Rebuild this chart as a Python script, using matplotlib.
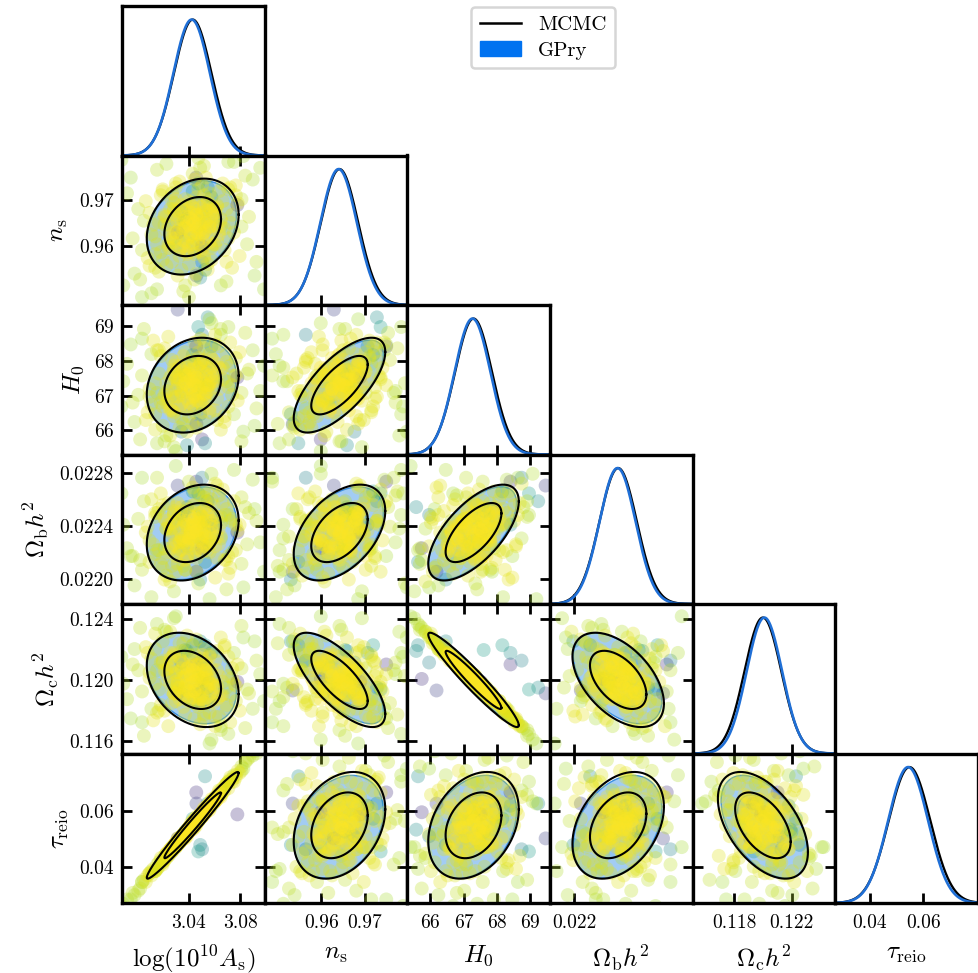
import numpy as np
import matplotlib
matplotlib.use("Agg")
import matplotlib.pyplot as plt
from matplotlib.lines import Line2D
from matplotlib.patches import Patch

plt.rcParams.update({
    "font.family": "serif",
    "font.serif": ["cmr10"],
    "mathtext.fontset": "cm",
    "axes.unicode_minus": False,
})

# parameters (order of the triangle)
labels = [r"$\log(10^{10}A_{\rm s})$", r"$n_{\rm s}$", r"$H_0$",
          r"$\Omega_{\rm b}h^2$", r"$\Omega_{\rm c}h^2$", r"$\tau_{\rm reio}$"]

# posterior summaries
mcmc_mean  = [3.0430, 0.9642, 67.30, 0.022350, 0.12000, 0.0548]
mcmc_sigma = [0.0146, 0.0043, 0.556, 0.000148, 0.00127, 0.0078]
gpry_mean  = [3.0422, 0.9640, 67.27, 0.022345, 0.12010, 0.0543]
gpry_sigma = [0.0142, 0.0042, 0.540, 0.000143, 0.00122, 0.0075]

# correlation matrix (logA, ns, H0, ombh2, omch2, tau)
corr = [
    [1.00, 0.25, 0.20, 0.25, -0.30, 0.98],
    [0.25, 1.00, 0.70, 0.45, -0.72, 0.30],
    [0.20, 0.70, 1.00, 0.65, -0.96, 0.30],
    [0.25, 0.45, 0.65, 1.00, -0.50, 0.35],
    [-0.30, -0.72, -0.96, -0.50, 1.00, -0.50],
    [0.98, 0.30, 0.30, 0.35, -0.50, 1.00],
]

limits = [(2.988, 3.099), (0.9470, 0.9798), (65.31, 69.60),
          (0.02181, 0.02294), (0.11515, 0.1250), (0.0270, 0.0805)]

x_ticks = [[3.04, 3.08], [0.96, 0.97], [66, 67, 68, 69], [0.022],
           [0.118, 0.122], [0.04, 0.06]]
x_ticklabels = [["3.04", "3.08"], ["0.96", "0.97"], ["66", "67", "68", "69"],
                ["0.022"], ["0.118", "0.122"], ["0.04", "0.06"]]
y_ticks = [[], [0.96, 0.97], [66, 67, 68, 69], [0.0220, 0.0224, 0.0228],
           [0.116, 0.120, 0.124], [0.04, 0.06]]
y_ticklabels = [[], ["0.96", "0.97"], ["66", "67", "68", "69"],
                ["0.0220", "0.0224", "0.0228"], ["0.116", "0.120", "0.124"],
                ["0.04", "0.06"]]

# GPry training points, in units of sigma from the MCMC mean
# columns: logA, ns, H0, ombh2, omch2, tau
train_z = [
    # near the peak
    (0.1, 0.2, 0.0, 0.3, -0.1, 0.2), (-0.4, 0.5, 0.3, -0.2, -0.4, -0.3),
    (0.6, -0.3, -0.5, 0.1, 0.5, 0.7), (-0.9, -0.6, -0.2, -0.7, 0.3, -1.0),
    (1.0, 0.8, 0.9, 0.6, -0.7, 1.1), (0.3, -0.9, -0.8, -0.4, 0.8, 0.2),
    (-0.2, 0.1, 0.6, 0.9, -0.6, -0.1), (0.8, 0.4, -0.1, -0.9, 0.0, 0.9),
    (-1.2, 0.9, 0.4, 0.2, -0.2, -1.1), (0.4, -0.2, 1.1, 0.5, -1.0, 0.5),
    (-0.6, -1.1, -1.0, -0.3, 1.0, -0.7), (1.3, 0.0, 0.2, 0.8, -0.3, 1.2),
    (0.0, 1.2, 0.8, 0.4, -0.9, 0.1), (-0.8, 0.3, -0.6, -1.1, 0.4, -0.6),
    (0.5, 0.7, 0.3, -0.5, -0.1, 0.4), (-0.1, -0.5, -1.2, 0.0, 1.1, -0.2),
    (0.9, -0.8, 0.5, 1.2, -0.5, 0.8), (-1.4, -0.2, 0.1, 0.6, 0.0, -1.3),
    (0.2, 0.6, -0.3, -0.8, 0.1, 0.3), (-0.5, -0.7, 0.7, 0.3, -0.8, -0.4),
    (1.1, 1.0, 1.3, 0.9, -1.2, 1.0), (-0.3, -1.3, -0.4, -0.6, 0.6, -0.5),
    (0.7, 0.2, -0.9, -0.2, 0.9, 0.6), (-1.0, 0.8, 1.0, 1.0, -0.7, -0.9),
    (0.2, -0.1, 0.4, -1.3, -0.3, 0.0), (-0.7, 0.4, -1.1, -0.9, 1.2, -0.8),
    (1.4, -0.4, -0.2, 0.2, 0.2, 1.5), (0.0, -0.8, 0.2, 1.4, -0.1, -0.1),
    (-1.1, 1.3, 0.6, -0.1, -0.6, -1.0), (0.6, 0.9, -0.7, 0.5, 0.7, 0.8),
    (-0.2, -1.0, 0.9, -0.4, -1.0, -0.3), (0.9, 0.1, 0.0, -0.3, -0.2, 0.7),
    (-0.6, 1.1, -0.3, 1.1, 0.1, -0.7), (0.3, -0.4, 1.4, 0.7, -1.3, 0.2),
    (-1.3, -0.9, -0.8, 0.4, 0.6, -1.4), (1.2, 0.5, -1.3, -0.7, 1.0, 1.1),
    (-0.4, 0.0, 0.1, -1.4, 0.2, -0.6), (0.1, -1.4, -0.6, 0.8, 0.5, 0.3),
    (0.8, 1.4, 0.7, -0.6, -0.4, 0.9), (-0.9, -0.3, 1.2, 1.3, -1.1, -0.8),
    (0.5, -0.6, -1.4, -1.0, 1.3, 0.6), (-0.1, 0.7, -0.1, 0.0, 0.3, 0.1),
    (1.5, 0.3, 0.8, -0.2, -0.8, 1.3), (-1.5, 0.6, -0.5, 0.7, 0.5, -1.6),
    (0.4, 1.0, 1.1, 1.0, -0.9, 0.5), (-0.7, -1.2, 0.3, -0.5, -0.4, -0.6),
    (0.0, 0.3, -1.0, 0.6, 0.8, -0.2), (1.0, -1.1, -0.4, 0.3, 0.6, 1.2),
    (-0.3, 0.8, 0.5, -1.2, -0.5, -0.4), (0.7, -0.2, 0.6, 1.3, -0.4, 0.6),
    (-1.2, -0.5, -1.3, -0.8, 1.4, -1.1), (0.2, 1.5, 0.2, 0.1, 0.0, 0.4),
    (-0.5, -0.1, 1.5, 0.4, -1.4, -0.6), (1.3, -0.7, -0.7, -1.3, 0.5, 1.2),
    (-0.8, 0.2, 0.0, 1.5, -0.2, -0.9), (0.6, -1.5, 0.1, -0.1, 0.1, 0.5),
    (-0.2, 0.5, -0.9, -0.3, 0.7, -0.1), (1.1, 0.6, 0.4, 0.0, -0.3, 1.0),
    (-1.0, -0.8, 0.8, 0.9, -0.7, -1.0), (0.3, 0.0, -0.4, 0.5, 0.3, 0.3),
    (0.2, -0.3, 0.4, 0.1, -0.5, 0.1), (-0.3, 0.2, -0.2, 0.4, 0.3, -0.2),
    (0.5, 0.5, 0.7, -0.1, -0.8, 0.6), (-0.6, -0.4, -0.5, -0.2, 0.6, -0.5),
    (0.9, -0.1, 0.1, 0.6, 0.0, 0.8), (-0.9, 0.6, 0.3, -0.5, -0.1, -0.8),
    (0.1, 0.9, 0.5, 0.7, -0.6, 0.2), (0.0, -0.9, -0.7, -0.6, 0.7, -0.1),
    (0.4, 0.1, -0.3, 0.2, 0.4, 0.3), (-0.2, -0.2, 0.2, -0.8, -0.1, -0.3),
    (1.2, 0.7, 0.6, 0.3, -0.4, 1.1), (-1.1, -0.6, -0.6, 0.5, 0.7, -1.2),
    (0.6, 1.1, 1.0, 0.2, -1.1, 0.5), (-0.5, -1.0, -1.1, -0.4, 0.9, -0.6),
    (0.3, 0.4, -0.1, 1.0, 0.2, 0.4), (-0.1, 0.0, 0.8, -0.3, -0.7, 0.0),
    (0.7, -0.5, -0.4, -0.7, 0.5, 0.8), (-0.8, 0.8, 0.2, 0.8, -0.4, -0.7),
    (1.0, 0.3, 0.3, -0.4, -0.2, 1.0), (-0.4, -0.8, 0.5, 0.6, -0.3, -0.3),
    (0.2, 0.6, -0.8, -0.9, 0.8, 0.1), (-0.7, -0.1, 1.0, 0.1, -1.0, -0.8),
    (0.8, 1.2, 0.0, 0.9, 0.1, 0.7), (-1.3, 0.1, -0.3, -1.0, 0.2, -1.2),
    (0.5, -1.2, -1.0, 0.3, 1.1, 0.4), (-0.2, 1.3, 1.2, 1.2, -1.1, -0.1),
    (1.4, -0.2, 0.9, -0.6, -0.9, 1.3), (-1.4, 0.5, -0.9, 0.2, 0.8, -1.3),
    (0.1, -0.6, 0.6, -1.1, -0.6, 0.2), (-0.6, 0.9, -0.4, 1.3, 0.5, -0.5),
    (0.9, 0.0, -1.2, 0.0, 1.2, 0.9), (-0.3, -1.4, 0.0, -1.3, -0.1, -0.4),
    (0.6, 0.2, 1.3, 1.1, -1.2, 0.6), (-1.0, -0.3, -1.4, -0.6, 1.3, -0.9),
    (1.1, -0.9, 0.2, 1.4, -0.2, 1.2), (-0.9, 1.4, 0.7, -1.2, -0.7, -1.0),
    (0.0, 0.1, -0.6, 0.0, 0.5, -0.1), (0.3, -0.7, 0.9, 0.4, -0.8, 0.3),
    (-0.5, 0.3, 0.0, -0.5, 0.1, -0.5), (0.7, 0.8, -0.5, 0.6, 0.4, 0.6),
    (-0.1, -0.4, -0.2, 0.8, 0.2, 0.0), (1.3, 1.0, 1.1, -0.2, -1.0, 1.4),
    (-1.2, -1.1, -1.2, 0.1, 1.1, -1.1), (0.4, -1.3, 0.4, -0.3, -0.4, 0.5),
    (-0.3, 1.0, -0.7, 0.3, 0.6, -0.2), (0.2, 0.0, 0.0, -0.1, 0.0, 0.2),
    (-0.1, 0.4, 0.3, 0.2, -0.2, -0.2), (0.5, -0.4, -0.1, -0.3, 0.1, 0.4),
    (-0.4, -0.1, 0.6, 0.5, -0.5, -0.4), (0.1, 0.7, -0.5, -0.4, 0.4, 0.0),
    # intermediate
    (1.8, 0.9, 1.6, 1.2, -1.5, 1.9), (-2.0, -1.4, -1.5, -1.1, 1.6, -2.1),
    (0.5, 2.1, 1.2, 0.8, -1.0, 0.4), (-0.6, -2.2, -1.7, -0.9, 1.5, -0.5),
    (2.2, -0.3, 0.5, 1.6, -0.2, 2.0), (-2.3, 0.7, -0.2, -1.5, 0.1, -2.2),
    (1.4, 1.8, 2.0, 1.9, -1.9, 1.6), (-1.6, -1.7, -2.1, -1.8, 2.0, -1.7),
    (0.8, -1.9, 0.9, -0.2, -0.9, 0.9), (-0.9, 2.0, -0.6, 0.6, 0.4, -0.8),
    (2.4, 1.2, -0.8, 0.1, 0.8, 2.5), (-1.9, -0.9, 1.8, 1.0, -1.7, -2.0),
    (0.1, 2.4, 2.2, 1.4, -2.0, 0.0), (0.2, -2.4, -2.2, -2.0, 2.1, 0.3),
    (1.7, -1.2, -1.6, -1.4, 1.8, 1.8), (-1.7, 1.6, 1.5, 2.0, -1.3, -1.5),
    (2.0, 0.2, 1.0, -1.8, -0.8, 2.2), (-2.2, -0.4, -1.0, 1.7, 1.1, -2.3),
    (0.9, 1.7, -1.4, -0.6, 1.3, 0.8), (-1.1, -1.8, 1.3, 0.2, -1.2, -1.2),
    (1.6, 2.2, 0.3, 2.2, -0.1, 1.5), (-1.4, -2.0, -0.3, -2.2, 0.5, -1.3),
    (2.5, -1.5, 1.7, 0.4, -1.6, 2.4), (-2.5, 1.3, -1.8, 0.0, 1.7, -2.6),
    (0.4, 0.6, 2.4, 0.9, -2.3, 0.5), (-0.3, -0.7, -2.4, -0.7, 2.3, -0.4),
    (1.9, 1.9, -0.1, -1.2, 0.2, 2.0), (-1.8, -2.3, 0.6, 1.2, -0.5, -1.9),
    (0.0, 1.0, -2.0, 2.3, 1.8, 0.2), (1.2, -0.9, 2.1, -2.3, -1.9, 1.1),
    (-0.7, 2.3, 0.9, -0.4, -0.6, -0.6), (2.1, -2.1, -0.5, 0.7, 0.6, 2.1),
    (-2.1, 0.1, 2.3, -0.6, -2.1, -2.0), (0.6, -1.6, -1.9, 1.8, 1.6, 0.7),
    (-0.4, 1.4, 1.7, -1.9, -1.8, -0.5), (1.5, 0.4, -2.3, 0.5, 2.2, 1.4),
    (-1.3, -1.1, 2.5, 1.5, -2.4, -1.4), (2.3, 1.6, 1.4, -0.9, -1.1, 2.3),
    (-2.4, -1.6, -1.4, 0.3, 1.4, -2.3), (0.7, 2.5, 0.0, 1.6, 0.3, 0.6),
    (-0.8, -2.5, 0.4, -1.6, -0.2, -0.9), (1.3, 1.1, -1.8, 2.4, 1.5, 1.3),
    (-1.5, 0.5, 1.9, -2.4, -1.6, -1.6), (0.1, -1.3, 1.1, 2.1, -1.0, 0.0),
    (1.9, -0.6, -1.1, -2.1, 1.2, 1.7), (-1.6, 1.9, -0.7, -1.3, 0.9, -1.8),
    (2.0, 2.0, 2.2, 0.6, -2.2, 2.1), (-2.0, -2.1, -2.3, 0.8, 2.4, -2.1),
    (0.9, 0.0, 1.6, -1.0, -1.7, 1.0), (-1.0, 0.9, -1.6, 1.1, 1.4, -1.1),
    (1.6, 1.3, 0.9, 1.5, -0.8, 1.7), (-1.7, -1.3, -0.9, -1.6, 0.9, -1.6),
    (0.3, 1.9, 1.7, 0.5, -1.4, 0.2), (-0.2, -1.9, -1.6, -0.2, 1.3, -0.3),
    (2.1, 0.6, 0.0, -1.0, 0.1, 2.0), (-2.0, -0.5, 0.1, 1.0, -0.2, -2.1),
    (1.0, -1.7, 1.4, 1.7, -1.1, 1.1), (-1.1, 1.7, -1.3, -1.7, 1.2, -1.0),
    (0.6, 1.6, 2.3, -0.7, -2.0, 0.7), (-0.7, -1.5, -2.2, 0.7, 1.9, -0.8),
    (1.7, -0.1, -1.9, 0.9, 1.7, 1.6), (-1.8, 0.2, 1.8, -0.9, -1.6, -1.7),
    (2.3, 2.1, 0.5, 0.4, -0.3, 2.2), (-2.3, -2.0, -0.6, -0.4, 0.4, -2.2),
    (0.8, -2.2, -0.3, 2.0, 0.5, 0.9), (-0.9, 2.2, 0.4, -2.0, -0.4, -0.9),
    (1.2, 0.9, 2.6, 2.5, -2.4, 1.3), (-1.2, -0.8, -2.6, -2.5, 2.5, -1.3),
    (1.8, -1.8, 1.2, -1.4, -1.3, 1.9), (-1.6, 1.8, -1.1, 1.4, 1.0, -1.7),
    # far from the peak
    (3.0, 0.5, 0.8, 1.0, -0.7, 3.1), (-3.2, -0.6, -0.9, -1.2, 0.8, -3.1),
    (0.6, 3.1, 1.9, 2.1, -1.8, 0.7), (-0.5, -3.3, -2.0, -1.7, 1.9, -0.4),
    (1.8, -2.8, 0.2, -2.9, -0.4, 1.9), (-1.9, 2.9, -0.4, 2.8, 0.5, -1.8),
    (2.8, 2.6, 2.7, 1.3, -2.5, 2.9), (-2.8, -2.7, -2.8, -1.4, 2.7, -2.9),
    (3.4, -1.8, -1.2, 0.6, 1.0, 3.3), (-3.5, 1.7, 1.1, -0.8, -1.0, -3.4),
    (0.3, 3.5, 0.1, -2.6, 0.2, 0.2), (-0.2, -3.6, 0.5, 2.6, -0.6, -0.1),
    (2.6, 0.0, -2.9, -1.6, 2.8, 2.7), (-2.6, 0.3, 2.9, 1.6, -2.9, -2.5),
    (1.0, -1.0, 3.2, 3.0, -3.1, 1.1), (-1.0, 1.2, -3.2, -3.0, 3.2, -1.0),
    (3.6, 3.0, -0.3, -0.5, 0.3, 3.5), (-3.7, -3.0, 0.2, 0.4, -0.2, -3.6),
    (1.5, -3.0, 2.6, -0.3, -2.4, 1.6), (-1.4, 3.2, -2.6, 0.2, 2.5, -1.5),
    (2.2, 3.3, -1.5, 3.2, 1.4, 2.3), (-2.2, -3.4, 1.6, -3.3, -1.5, -2.1),
    (3.8, -3.2, 1.0, -2.0, -1.1, 3.7), (-3.8, 3.4, -1.1, 2.0, 1.2, -3.7),
    (2.6, 1.4, -0.4, 1.8, 0.6, 2.5), (-2.7, -1.2, 0.5, -1.9, -0.6, -2.6),
    (0.0, 2.7, 1.3, 0.3, -1.2, 0.1), (0.1, -2.7, -1.4, -0.2, 1.3, -0.1),
    (1.5, 0.0, 2.9, 0.8, -2.6, 1.4), (-1.5, 0.1, -2.9, -0.8, 2.6, -1.4),
    (2.9, -0.9, 0.6, -0.6, -0.5, 3.0), (-2.9, 0.9, -0.5, 0.7, 0.5, -3.0),
    (0.4, 3.0, -0.9, 1.9, 0.9, 0.3), (-0.4, -3.0, 0.9, -1.9, -0.9, -0.3),
    (3.2, 2.4, 1.8, 2.7, -1.5, 3.2), (-3.1, -2.4, -1.9, -2.7, 1.6, -3.2),
    (1.9, 3.3, 3.0, 0.9, -2.8, 2.0), (-1.9, -3.2, -3.0, -0.9, 2.9, -2.0),
    (3.3, -2.5, -2.1, 1.2, 2.0, 3.4), (-3.3, 2.5, 2.1, -1.2, -2.0, -3.4),
    (2.7, 3.6, -2.4, -2.8, 2.2, 2.6), (-2.7, -3.6, 2.4, 2.8, -2.2, -2.6),
    (0.9, 1.0, 3.4, -3.4, -3.3, 1.0), (-0.9, -1.0, -3.4, 3.4, 3.3, -1.0),
    # off the degeneracy directions (low posterior)
    (0.66, -2.2, -3.0, -1.5, 1.8, 2.25), (0.19, 2.5, 2.0, 2.6, 0.8, 1.51),
    (2.38, 1.1, 0.4, 0.0, -0.1, 0.5), (0.4, -2.6, -1.5, -2.4, 2.0, -0.9),
    (0.3, 2.2, 3.0, 2.0, -0.5, -1.2), (0.5, -1.8, 2.6, 2.8, 1.0, -1.1),
    (-0.3, 0.4, -3.1, 1.3, 1.5, -0.2), (0.5, -1.0, -2.8, -0.8, 0.05, 0.6),
    (-0.6, 0.8, -2.4, 0.9, 0.9, -0.5), (0.2, -2.5, -2.0, -2.0, -0.55, 1.0),
    (0.0, 1.8, 1.56, 2.1, 1.8, 0.3), (1.0, 1.5, 2.0, 0.4, 1.4, 0.9),
    (-0.4, 0.3, 0.55, 1.1, 1.55, -0.3), (0.8, 2.0, 3.5, 1.6, -0.4, 1.0),
    (-0.8, -0.3, 3.9, 2.4, -0.7, -0.6),
]
# colour value of each training point (viridis scale, 1 = highest posterior)
train_value = (
    [1.00, 0.99, 0.99, 0.98, 0.98, 0.99, 1.00, 0.98, 0.97, 0.99] * 11
    + [0.96, 0.95, 0.96, 0.95, 0.96, 0.95, 0.95, 0.94, 0.96, 0.96] * 7
    + [0.92, 0.91, 0.92, 0.91, 0.90, 0.90, 0.91, 0.90, 0.90, 0.89,
       0.90, 0.90, 0.90, 0.90, 0.89, 0.89, 0.88, 0.88, 0.89, 0.89,
       0.88, 0.88, 0.87, 0.87, 0.91, 0.91, 0.92, 0.92, 0.90, 0.90,
       0.90, 0.90, 0.91, 0.91, 0.88, 0.88, 0.88, 0.88, 0.87, 0.87,
       0.87, 0.87, 0.87, 0.87]
    + [0.50, 0.15, 0.15, 0.50, 0.55, 0.45, 0.50, 0.15, 0.45, 0.20,
       0.55, 0.50, 0.55, 0.50, 0.20]
)

npar = len(labels)
pts = np.array(train_z) * np.array(mcmc_sigma) + np.array(mcmc_mean)
vals = np.array(train_value)
order = np.argsort(vals, kind="stable")   # low-posterior points underneath
pts, vals = pts[order], vals[order]

R68 = np.sqrt(-2 * np.log(0.32))
R95 = np.sqrt(-2 * np.log(0.05))
theta = np.linspace(0, 2 * np.pi, 300)


def ellipse(mean, sig, j, i, r):
    cov = np.array([[sig[j] ** 2, corr[i][j] * sig[i] * sig[j]],
                    [corr[i][j] * sig[i] * sig[j], sig[i] ** 2]])
    L = np.linalg.cholesky(cov)
    xy = L @ np.vstack([np.cos(theta), np.sin(theta)]) * r
    return xy[0] + mean[j], xy[1] + mean[i]


fig = plt.figure(figsize=(9.79, 9.73), dpi=100)
gs = fig.add_gridspec(npar, npar, left=122 / 979, right=978 / 979,
                      bottom=1 - 903 / 973, top=1 - 6 / 973,
                      wspace=0, hspace=0)

for i in range(npar):
    for j in range(i + 1):
        ax = fig.add_subplot(gs[i, j])
        for s in ax.spines.values():
            s.set_linewidth(2.4)
        ax.set_xlim(limits[j])
        if i == j:
            x = np.linspace(*limits[j], 400)
            yb = np.exp(-0.5 * ((x - mcmc_mean[j]) / mcmc_sigma[j]) ** 2)
            yg = np.exp(-0.5 * ((x - gpry_mean[j]) / gpry_sigma[j]) ** 2)
            ax.plot(x, yb, color="black", lw=1.7)
            ax.plot(x, yg, color="#1f6fd6", lw=1.9)
            ax.set_ylim(0, 1.1)
            ax.set_yticks([])
            ax.tick_params(axis="x", direction="in", length=7.5, width=2.0,
                           top=False, bottom=True)
        else:
            ax.set_ylim(limits[i])
            xo, yo = ellipse(gpry_mean, gpry_sigma, j, i, R95)
            ax.fill(xo, yo, color="#a2ccf3", lw=1.0, ec="#3c8fe0", zorder=1)
            xi, yi = ellipse(gpry_mean, gpry_sigma, j, i, R68)
            ax.fill(xi, yi, color="#93c4f1", lw=1.0, ec="#3c8fe0", zorder=1)
            ax.scatter(pts[:, j], pts[:, i], c=vals, cmap="viridis",
                       vmin=0, vmax=1, s=100, alpha=0.3, lw=0, zorder=2)
            for r in (R68, R95):
                xm, ym = ellipse(mcmc_mean, mcmc_sigma, j, i, r)
                ax.plot(xm, ym, color="black", lw=1.5, zorder=3)
            ax.set_yticks(y_ticks[i])
            ax.tick_params(direction="in", length=7.5, width=2.0,
                           top=True, bottom=True, left=True, right=True)
        ax.set_xticks(x_ticks[j])
        if i == npar - 1:
            ax.set_xticklabels(x_ticklabels[j], fontsize=14)
            ax.tick_params(axis="x", pad=8)
            ax.set_xlabel(labels[j], fontsize=18, labelpad=8)
        else:
            ax.set_xticklabels([])
        if j == 0 and i > 0:
            ax.set_yticklabels(y_ticklabels[i], fontsize=14)
            ax.tick_params(axis="y", pad=6)
            ax.set_ylabel(labels[i], fontsize=18, labelpad=6)
        elif i != j:
            ax.set_yticklabels([])

handles = [Line2D([], [], color="black", lw=1.8),
           Patch(facecolor="#0072f0", edgecolor="#0072f0")]
leg = fig.legend(handles, ["MCMC", "GPry"], loc="upper center",
                 bbox_to_anchor=(543 / 979, 1 - 7 / 973), fontsize=15,
                 frameon=True, fancybox=True, handlelength=2.0,
                 borderpad=0.4, labelspacing=0.35, borderaxespad=0)
leg.get_frame().set_edgecolor("#cccccc")
leg.get_frame().set_linewidth(1.8)

fig.savefig("out.png", dpi=100)
